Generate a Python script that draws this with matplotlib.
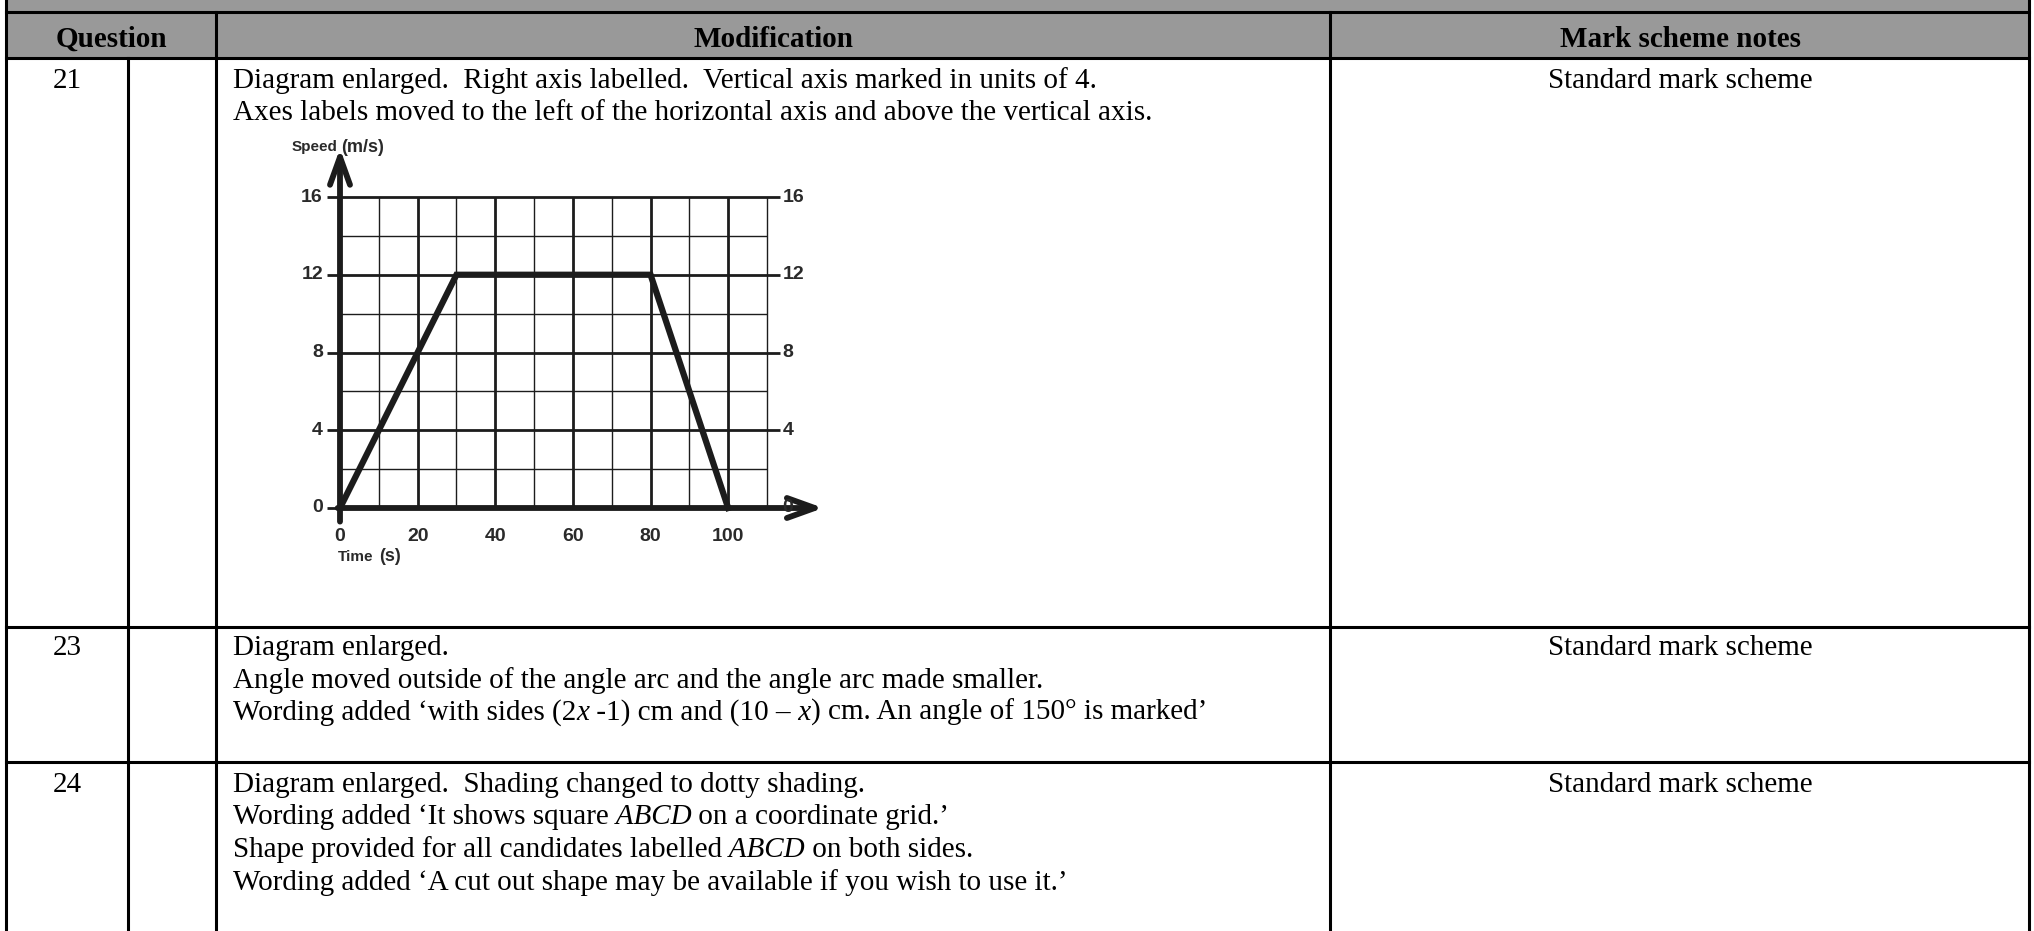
import numpy as np
import matplotlib
matplotlib.use("Agg")
import matplotlib.pyplot as plt
from matplotlib.lines import Line2D
from matplotlib.patches import Rectangle

# ---- table content ----
headers = ["Question", "Modification", "Mark scheme notes"]
questions = ["21", "23", "24"]
notes = ["Standard mark scheme", "Standard mark scheme", "Standard mark scheme"]
# each line is a list of (text, style) pieces
mod_21 = [
    [("Diagram enlarged.  Right axis labelled.  Vertical axis marked in units of 4.", "normal")],
    [("Axes labels moved to the left of the horizontal axis and above the vertical axis.", "normal")],
]
mod_23 = [
    [("Diagram enlarged.", "normal")],
    [("Angle moved outside of the angle arc and the angle arc made smaller.", "normal")],
    [("Wording added \u2018with sides (2", "normal"), ("x", "italic"), (" -1) cm and (10 \u2013", "normal"),
     (" x", "italic"), (") cm. An angle of 150\u00b0 is marked\u2019", "normal")],
]
mod_24 = [
    [("Diagram enlarged.  Shading changed to dotty shading.", "normal")],
    [("Wording added \u2018It shows square", "normal"), (" ABCD", "italic"), (" on a coordinate grid.\u2019", "normal")],
    [("Shape provided for all candidates labelled", "normal"), (" ABCD", "italic"), (" on both sides.", "normal")],
    [("Wording added \u2018A cut out shape may be available if you wish to use it.\u2019", "normal")],
]

# ---- speed-time graph ----
time = [0, 30, 80, 100]
speed = [0, 12, 12, 0]
x_ticks = [0, 20, 40, 60, 80, 100]
y_ticks = [0, 4, 8, 12, 16]

W, H = 2034, 931
fig = plt.figure(figsize=(W / 100, H / 100), dpi=100)
renderer = fig.canvas.get_renderer()


def fx(px):
    return px / W


def fy(py):
    return 1 - py / H


def line(x0, y0, x1, y1, lw=2.2):
    fig.add_artist(Line2D([fx(x0), fx(x1)], [fy(y0), fy(y1)], color="black",
                          lw=lw, solid_capstyle="projecting"))


SERIF = "Liberation Serif"
FS = 21


def rich(x, y, parts):
    for s, style in parts:
        t = fig.text(fx(x), fy(y), s, family=SERIF, fontsize=FS, style=style, va="baseline")
        x += t.get_window_extent(renderer).width


# header band
fig.add_artist(Rectangle((fx(6), fy(58)), fx(2029) - fx(6), fy(0) - fy(58),
                         facecolor="#999999", edgecolor="none"))

# table rules
line(6, 12, 2029, 12)
line(6, 58, 2029, 58)
line(6, 627, 2029, 627)
line(6, 762, 2029, 762)
line(6, 0, 6, 931)
line(2029, 0, 2029, 931)
line(216, 12, 216, 931)
line(1330, 12, 1330, 931)
line(128, 58, 128, 931)

# header text
for s, cx in zip(headers, [111, 773, 1680]):
    fig.text(fx(cx), fy(47), s, family=SERIF, fontsize=FS, fontweight="bold",
             ha="center", va="baseline")

row_base = [88, 655, 792]
for q, n, mods, b in zip(questions, notes, [mod_21, mod_23, mod_24], row_base):
    fig.text(fx(67), fy(b), q, family=SERIF, fontsize=FS, ha="center", va="baseline")
    fig.text(fx(1680), fy(b), n, family=SERIF, fontsize=FS, ha="center", va="baseline")
    for i, parts in enumerate(mods):
        rich(233, b + i * 32.5, parts)

# ---- graph ----
ax = fig.add_axes([fx(340), fy(508), fx(767) - fx(340), fy(197) - fy(508)])
ax.set_xlim(0, 110)
ax.set_ylim(0, 16)
ax.axis("off")
ink = "#1c1c1c"

for gx in np.arange(0, 111, 10):
    major = gx % 20 == 0
    ax.plot([gx, gx], [0, 16], color=ink, lw=2.0 if major else 1.0,
            solid_capstyle="butt", clip_on=False)
for gy in np.arange(0, 17, 2):
    if gy % 4 == 0:
        ax.plot([-3.3, 113.3], [gy, gy], color=ink, lw=2.0, solid_capstyle="butt", clip_on=False)
    else:
        ax.plot([0, 110], [gy, gy], color=ink, lw=1.0, solid_capstyle="butt", clip_on=False)

arrow = dict(arrowstyle="->,head_length=1.0,head_width=0.36", lw=4.2, color=ink,
             mutation_scale=20, shrinkA=0, shrinkB=0)
ax.annotate("", xy=(0, 18.5), xytext=(0, -0.7), arrowprops=arrow, annotation_clip=False)
ax.annotate("", xy=(124.5, 0), xytext=(-0.6, 0), arrowprops=arrow, annotation_clip=False)

ax.plot(time, speed, color=ink, lw=4.5, solid_joinstyle="miter", clip_on=False)

lab = dict(family="Liberation Sans", fontweight="bold", color="#2a2a2a", clip_on=False)
for v in y_ticks:
    ax.text(-4.4, v, str(v), ha="right", va="center", fontsize=14, **lab)
    ax.text(114.0, v, str(v), ha="left", va="center", fontsize=14, **lab)
for v in x_ticks:
    ax.text(v, -1.45, str(v), ha="center", va="center", fontsize=14, **lab)

ax.text(-0.6, 18.56, "Speed", ha="right", va="center", fontsize=11, **lab)
ax.text(0.4, 18.56, "(m/s)", ha="left", va="center", fontsize=13, **lab)
ax.text(-0.5, -2.5, "Time", ha="left", va="center", fontsize=11, **lab)
ax.text(10.2, -2.5, "(s)", ha="left", va="center", fontsize=13, **lab)

fig.savefig("out.png", dpi=100)
